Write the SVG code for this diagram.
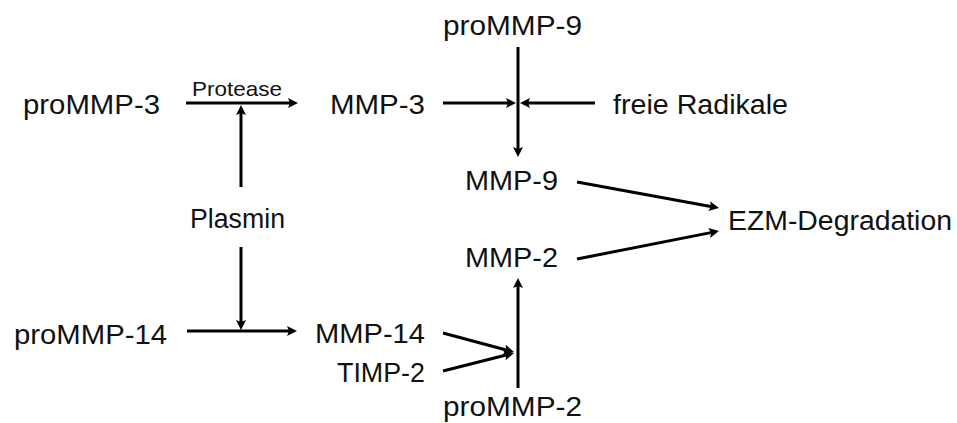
<svg xmlns="http://www.w3.org/2000/svg" width="957" height="423" viewBox="0 0 957 423">
  <defs>
    <marker id="head" viewBox="0 0 10 10" refX="3" refY="5" markerWidth="10" markerHeight="10" markerUnits="userSpaceOnUse" orient="auto">
      <path d="M0,0 L10,5 L0,10 L2,5 z" fill="#000"/>
    </marker>
    <style>
      .lbl { font-family: "Liberation Sans", Arial, sans-serif; font-size: 27px; fill: #111; }
      .small { font-size: 21px; }
      .edge { stroke: #000; stroke-width: 3; fill: none; }
      .arrow { marker-end: url(#head); }
    </style>
  </defs>
  <rect width="957" height="423" fill="#fff"/>

  <g id="connectors">
    <line class="edge arrow" x1="186" y1="103" x2="291" y2="103"/>
    <line class="edge arrow" x1="241" y1="187" x2="241" y2="112"/>
    <line class="edge arrow" x1="443" y1="103" x2="509" y2="103"/>
    <line class="edge arrow" x1="595" y1="103" x2="527" y2="103"/>
    <line class="edge arrow" x1="518" y1="47" x2="518" y2="150"/>
    <line class="edge arrow" x1="577" y1="182" x2="712.1" y2="206.7"/>
    <line class="edge arrow" x1="577" y1="259" x2="712.1" y2="232.4"/>
    <line class="edge arrow" x1="241" y1="247" x2="241" y2="323"/>
    <line class="edge arrow" x1="187" y1="331" x2="290" y2="331"/>
    <line class="edge arrow" x1="443" y1="333" x2="507.2" y2="350.2"/>
    <line class="edge arrow" x1="443" y1="371" x2="507.2" y2="354.7"/>
    <line class="edge arrow" x1="518" y1="388" x2="518" y2="285"/>
  </g>

  <g id="proMMP-3"><text class="lbl" x="23" y="114" textLength="137" lengthAdjust="spacingAndGlyphs">proMMP-3</text></g>
  <g id="protease"><text class="lbl small" x="192" y="96" textLength="90" lengthAdjust="spacingAndGlyphs">Protease</text></g>
  <g id="MMP-3"><text class="lbl" x="330" y="114" textLength="95" lengthAdjust="spacingAndGlyphs">MMP-3</text></g>
  <g id="proMMP-9"><text class="lbl" x="443" y="35" textLength="139" lengthAdjust="spacingAndGlyphs">proMMP-9</text></g>
  <g id="radikale"><text class="lbl" x="613" y="114" textLength="175" lengthAdjust="spacingAndGlyphs">freie Radikale</text></g>
  <g id="MMP-9"><text class="lbl" x="465" y="190" textLength="93" lengthAdjust="spacingAndGlyphs">MMP-9</text></g>
  <g id="plasmin"><text class="lbl" x="190" y="228" textLength="95" lengthAdjust="spacingAndGlyphs">Plasmin</text></g>
  <g id="EZM-Degradation"><text class="lbl" x="728" y="230" textLength="224" lengthAdjust="spacingAndGlyphs">EZM-Degradation</text></g>
  <g id="MMP-2"><text class="lbl" x="465" y="267" textLength="93" lengthAdjust="spacingAndGlyphs">MMP-2</text></g>
  <g id="proMMP-14"><text class="lbl" x="14" y="344" textLength="153" lengthAdjust="spacingAndGlyphs">proMMP-14</text></g>
  <g id="MMP-14"><text class="lbl" x="315" y="343" textLength="110" lengthAdjust="spacingAndGlyphs">MMP-14</text></g>
  <g id="TIMP-2"><text class="lbl" x="337" y="382" textLength="88" lengthAdjust="spacingAndGlyphs">TIMP-2</text></g>
  <g id="proMMP-2"><text class="lbl" x="443" y="416" textLength="139" lengthAdjust="spacingAndGlyphs">proMMP-2</text></g>
</svg>
